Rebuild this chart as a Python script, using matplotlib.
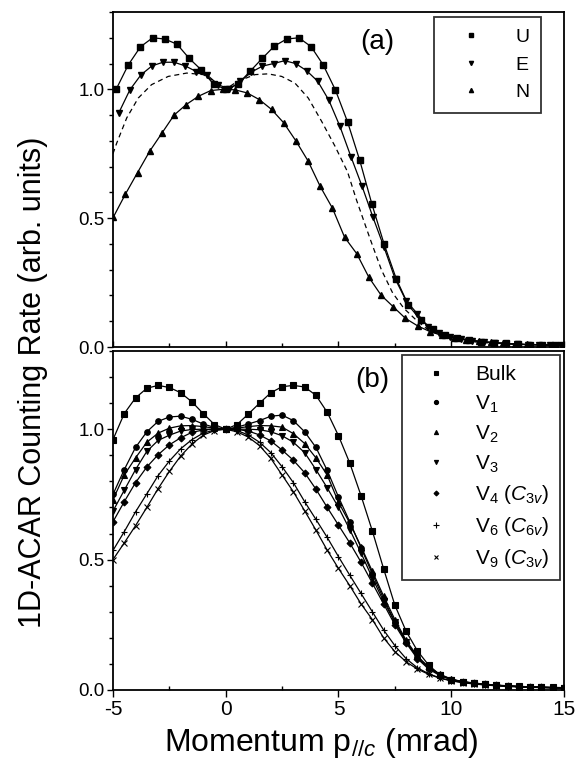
import numpy as np
import matplotlib
matplotlib.use('Agg')
import matplotlib.pyplot as plt
from matplotlib.lines import Line2D

plt.rcParams['font.family'] = ['Liberation Sans', 'DejaVu Sans']
plt.rcParams['mathtext.fontset'] = 'custom'
plt.rcParams['mathtext.rm'] = 'Liberation Sans'
plt.rcParams['mathtext.it'] = 'Liberation Sans:italic'
plt.rcParams['axes.unicode_minus'] = False

# ---- panel (a) ----
x_u = [-4.86, -4.32, -3.78, -3.24, -2.70, -2.16, -1.62, -1.08, -0.54, 0.0, 0.54, 1.08, 1.62,
       2.16, 2.70, 3.24, 3.78, 4.32, 4.86, 5.40, 5.94, 6.48, 7.02, 7.56, 8.10, 8.64, 9.18,
       9.72, 10.26, 10.80, 11.34, 11.88, 12.42, 12.96, 13.50, 14.04, 14.58]
y_u = [1.00, 1.095, 1.165, 1.20, 1.195, 1.175, 1.12, 1.075, 1.02, 1.00, 1.02, 1.07, 1.12,
       1.168, 1.195, 1.20, 1.166, 1.095, 0.998, 0.874, 0.725, 0.555, 0.40, 0.265, 0.162, 0.105, 0.07,
       0.048, 0.035, 0.027, 0.021, 0.017, 0.014, 0.011, 0.009, 0.008, 0.007]

x_e = [-4.74, -4.25, -3.76, -3.27, -2.78, -2.29, -1.80, -1.31, -0.82, -0.33, 0.16, 0.65, 1.14,
       1.63, 2.12, 2.61, 3.10, 3.59, 4.08, 4.57, 5.06, 5.55, 6.04, 6.53, 7.02, 7.51, 8.00,
       8.49, 8.98, 9.47, 9.96, 10.45, 10.94, 11.43, 11.92, 12.41, 12.90, 13.39, 13.88, 14.37, 14.86]
y_e = [0.909, 0.998, 1.056, 1.091, 1.105, 1.105, 1.091, 1.069, 1.055, 1.018, 1.00, 1.031, 1.067,
       1.09, 1.10, 1.111, 1.10, 1.072, 1.031, 0.958, 0.857, 0.739, 0.625, 0.503, 0.387, 0.265, 0.179,
       0.13, 0.078, 0.055, 0.04, 0.031, 0.025, 0.02, 0.016, 0.013, 0.011, 0.009, 0.008, 0.007, 0.006]

x_n = [-4.99, -4.45, -3.91, -3.37, -2.83, -2.29, -1.75, -1.21, -0.67, -0.13, 0.41, 0.95, 1.49,
       2.03, 2.57, 3.11, 3.65, 4.19, 4.73, 5.27, 5.81, 6.35, 6.89, 7.43, 7.97, 8.51, 9.05,
       9.59, 10.13, 10.67, 11.21, 11.75, 12.29, 12.83, 13.37, 13.91, 14.45, 14.99]
y_n = [0.503, 0.593, 0.677, 0.76, 0.83, 0.90, 0.941, 0.973, 0.995, 1.0, 0.998, 0.986, 0.96,
       0.922, 0.87, 0.80, 0.722, 0.623, 0.539, 0.426, 0.362, 0.27, 0.201, 0.156, 0.111, 0.082, 0.06,
       0.045, 0.035, 0.027, 0.022, 0.018, 0.015, 0.012, 0.010, 0.009, 0.008, 0.007]

x_dash = [-5.0, -4.84, -4.39, -3.88, -3.29, -2.55, -1.73, -1.0, -0.5, 0.0, 0.5, 1.3, 1.88, 2.48,
          3.07, 3.66, 4.25, 4.84, 5.4, 5.8, 6.4, 6.9, 7.4, 7.9, 8.5, 9.0, 10, 11, 12, 13, 14, 15]
y_dash = [0.75, 0.79, 0.889, 0.966, 1.018, 1.05, 1.063, 1.057, 1.03, 1.0, 1.03, 1.057, 1.06, 1.05,
          1.024, 0.966, 0.876, 0.78, 0.68, 0.57, 0.42, 0.30, 0.21, 0.15, 0.10, 0.065, 0.03, 0.02,
          0.014, 0.01, 0.008, 0.006]

# ---- panel (b) ----
x_b = [-5.0, -4.5, -4.0, -3.5, -3.0, -2.5, -2.0, -1.5, -1.0, -0.5, 0.0, 0.5, 1.0, 1.5, 2.0,
       2.5, 3.0, 3.5, 4.0, 4.5, 5.0, 5.5, 6.0, 6.5, 7.0, 7.5, 8.0, 8.5, 9.0, 9.5, 10.0,
       10.5, 11.0, 11.5, 12.0, 12.5, 13.0, 13.5, 14.0, 14.5, 15.0]
y_bulk = [0.96, 1.06, 1.12, 1.157, 1.168, 1.16, 1.14, 1.105, 1.06, 1.018, 1.0, 1.018, 1.058, 1.10, 1.14,
          1.163, 1.168, 1.162, 1.13, 1.065, 0.975, 0.87, 0.745, 0.61, 0.465, 0.325, 0.225, 0.15, 0.095, 0.058, 0.04,
          0.032, 0.027, 0.022, 0.019, 0.016, 0.014, 0.012, 0.011, 0.010, 0.009]
y_v1 = [0.75, 0.845, 0.93, 0.99, 1.03, 1.047, 1.05, 1.038, 1.02, 1.007, 1.0, 1.008, 1.02, 1.033, 1.05,
        1.054, 1.033, 0.99, 0.93, 0.842, 0.74, 0.645, 0.545, 0.445, 0.35, 0.26, 0.185, 0.125, 0.085, 0.058, 0.04,
        0.031, 0.026, 0.021, 0.018, 0.015, 0.013, 0.011, 0.010, 0.009, 0.008]
y_v2 = [0.73, 0.824, 0.89, 0.95, 0.985, 1.004, 1.013, 1.014, 1.01, 1.004, 1.0, 1.004, 1.01, 1.014, 1.013,
        1.008, 0.983, 0.945, 0.89, 0.824, 0.72, 0.64, 0.55, 0.455, 0.36, 0.27, 0.19, 0.13, 0.088, 0.06, 0.042,
        0.032, 0.026, 0.021, 0.018, 0.015, 0.013, 0.011, 0.010, 0.009, 0.008]
y_v3 = [0.686, 0.766, 0.845, 0.915, 0.957, 0.977, 0.993, 0.999, 1.0, 1.0, 1.0, 1.0, 1.0, 0.998, 0.99,
        0.975, 0.95, 0.91, 0.845, 0.775, 0.70, 0.615, 0.525, 0.43, 0.34, 0.26, 0.185, 0.125, 0.085, 0.058, 0.04,
        0.031, 0.025, 0.021, 0.018, 0.015, 0.013, 0.011, 0.010, 0.009, 0.008]
y_v4 = [0.645, 0.722, 0.795, 0.855, 0.902, 0.94, 0.967, 0.988, 0.997, 1.0, 1.0, 0.999, 0.993, 0.978, 0.955,
        0.92, 0.881, 0.833, 0.77, 0.70, 0.632, 0.564, 0.49, 0.41, 0.33, 0.25, 0.18, 0.12, 0.08, 0.055, 0.04,
        0.031, 0.025, 0.021, 0.018, 0.015, 0.013, 0.011, 0.010, 0.009, 0.008]
y_v6 = [0.535, 0.607, 0.683, 0.752, 0.822, 0.878, 0.925, 0.96, 0.985, 0.997, 1.0, 0.995, 0.978, 0.95, 0.91,
        0.856, 0.795, 0.722, 0.654, 0.585, 0.511, 0.44, 0.37, 0.30, 0.23, 0.17, 0.12, 0.085, 0.062, 0.046, 0.036,
        0.029, 0.024, 0.020, 0.017, 0.014, 0.012, 0.011, 0.010, 0.009, 0.008]
y_v9 = [0.50, 0.564, 0.63, 0.70, 0.772, 0.838, 0.897, 0.943, 0.977, 0.995, 1.0, 0.99, 0.97, 0.937, 0.888,
        0.824, 0.76, 0.687, 0.613, 0.536, 0.466, 0.40, 0.33, 0.27, 0.20, 0.147, 0.108, 0.08, 0.06, 0.045, 0.035,
        0.028, 0.023, 0.019, 0.016, 0.014, 0.012, 0.010, 0.009, 0.008, 0.007]

labels_a = ['U', 'E', 'N']
labels_b = ['Bulk', r'V$_1$', r'V$_2$', r'V$_3$', r'V$_4$ ($\mathit{C_{3v}}$)',
            r'V$_6$ ($\mathit{C_{6v}}$)', r'V$_9$ ($\mathit{C_{3v}}$)']

fig = plt.figure(figsize=(5.77, 7.64), dpi=100)
ax1 = fig.add_axes([0.1958, 0.5458, 0.7817, 0.4385])
ax2 = fig.add_axes([0.1958, 0.0969, 0.7817, 0.4437])

lw = 0.9
ms = 4
series_a = [(x_u, y_u, 's'), (x_e, y_e, 'v'), (x_n, y_n, '^')]
for (xx, yy, m) in series_a:
    ax1.plot(xx, yy, color='k', lw=lw, marker=m, ms=ms, mfc='k', mec='k')
ax1.plot(x_dash, y_dash, color='k', lw=lw, ls=(0, (4, 3)))

series_b = [(y_bulk, 's', ms), (y_v1, 'o', ms), (y_v2, '^', ms), (y_v3, 'v', ms),
            (y_v4, 'D', 3.5), (y_v6, '+', 5), (y_v9, 'x', 4)]
for (yy, m, s) in series_b:
    ax2.plot(x_b, yy, color='k', lw=lw, marker=m, ms=s, mfc='k', mec='k', mew=0.8)

for ax in (ax1, ax2):
    ax.set_xlim(-5, 15)
    ax.set_ylim(0, 1.3)
    ax.set_yticks([0.0, 0.5, 1.0])
    ax.set_yticks(np.arange(0, 1.31, 0.1), minor=True)
    ax.set_xticks([-5, 0, 5, 10, 15])
    ax.set_xticks([-2.5, 2.5, 7.5, 12.5], minor=True)
    ax.set_yticklabels(['0.0', '0.5', '1.0'])
    ax.tick_params(axis='y', which='major', direction='out', length=4, width=1, labelsize=13.5, pad=2)
    ax.tick_params(axis='y', which='minor', direction='out', length=3, width=1)
    for sp in ax.spines.values():
        sp.set_linewidth(1.3)

ax1.tick_params(axis='x', which='both', direction='in', length=4, width=1, labelbottom=False)
ax1.tick_params(axis='x', which='minor', length=3)
ax2.tick_params(axis='x', which='major', direction='out', length=5, width=1, labelsize=15, pad=2)
ax2.tick_params(axis='x', which='minor', direction='in', length=3, width=1)

ax1.text(0.585, 0.91, '(a)', transform=ax1.transAxes, fontsize=20, ha='center', va='center')
ax2.text(0.575, 0.915, '(b)', transform=ax2.transAxes, fontsize=20, ha='center', va='center')

h_a = [Line2D([], [], ls='none', marker=m, color='k', ms=3) for m in ['s', 'v', '^']]
leg1 = ax1.legend(h_a, labels_a, loc='upper right', bbox_to_anchor=(0.949, 0.985), borderaxespad=0,
                  fontsize=14, frameon=True, fancybox=False, edgecolor='k', borderpad=0.6,
                  handlelength=2.7, handletextpad=0.9, labelspacing=0.5)
leg1.get_frame().set_linewidth(1.3)

mk_b = [('s', 3), ('o', 3), ('^', 3), ('v', 3), ('D', 2.5), ('+', 4), ('x', 3)]
h_b = [Line2D([], [], ls='none', marker=m, color='k', ms=s, mew=0.8) for m, s in mk_b]
leg2 = ax2.legend(h_b, labels_b, loc='upper right', bbox_to_anchor=(0.991, 0.988), borderaxespad=0,
                  fontsize=15, frameon=True, fancybox=False, edgecolor='k', borderpad=0.5,
                  handlelength=2.2, handletextpad=0.8, labelspacing=0.42)
leg2.get_frame().set_linewidth(1.3)

fig.text(0.5575, 0.027, r'Momentum p$_{//c}$ (mrad)', fontsize=23, ha='center', va='center')
fig.text(0.058, 0.5, '1D-ACAR Counting Rate (arb. units)', fontsize=22, rotation=90,
         ha='center', va='center')

fig.savefig('out.png', dpi=100, facecolor='white')
